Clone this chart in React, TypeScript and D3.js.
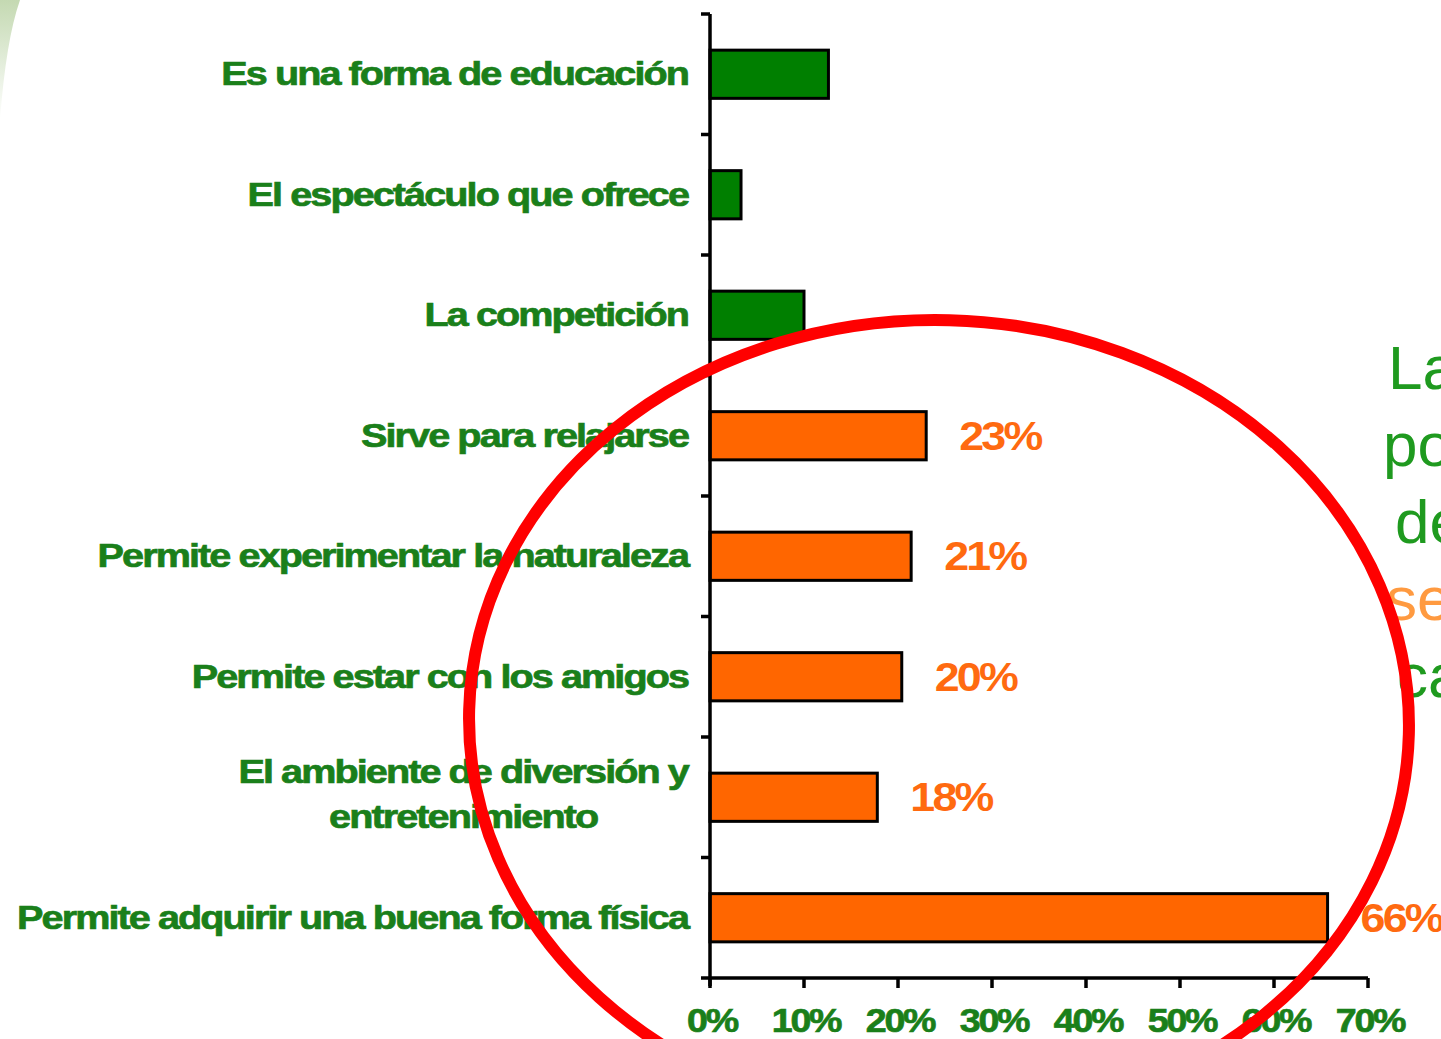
import React, { useEffect, useRef } from "react";
import * as d3 from "d3";

const categories = [
  "Es una forma de educación",
  "El espectáculo que ofrece",
  "La competición",
  "Sirve para relajarse",
  "Permite experimentar la naturaleza",
  "Permite estar con los amigos",
  "El ambiente de diversión y\nentretenimiento",
  "Permite adquirir una buena forma física",
];
const values = [12.6, 3.3, 10, 23, 21.4, 20.4, 17.8, 65.7];
const highlighted = [false, false, false, true, true, true, true, true];
const valueLabels = ["", "", "", "23%", "21%", "20%", "18%", "66%"];
const xTicks = [0, 10, 20, 30, 40, 50, 60, 70];
const sideLines = [
  { text: "La", color: "#1f9a1f" },
  { text: "po", color: "#1f9a1f" },
  { text: "de", color: "#1f9a1f" },
  { text: "se", color: "#ff9a40" },
  { text: "ca", color: "#1f9a1f" },
];
const sideX = [1388, 1383, 1395, 1386, 1397];

const W = 1441;
const H = 1039;
const LABEL_GREEN = "#1a7f1a";
const BAR_GREEN = "#007f00";
const ORANGE = "#ff6600";
const LABEL_ORANGE = "#ff6a10";
const FONT = "'Liberation Sans', Arial, sans-serif";

export default function App() {
  const ref = useRef<SVGSVGElement | null>(null);

  useEffect(() => {
    const svg = d3.select(ref.current);
    svg.selectAll("*").remove();

    const x = d3.scaleLinear().domain([0, 70]).range([710, 1368]);
    const y = d3
      .scaleBand<number>()
      .domain(d3.range(categories.length))
      .range([14, 978])
      .paddingInner(0.6)
      .paddingOuter(0.3);

    svg.append("rect").attr("width", W).attr("height", H).attr("fill", "#ffffff");

    // top-left decorative shape
    const defs = svg.append("defs");
    const grad = defs
      .append("linearGradient")
      .attr("id", "tlg")
      .attr("x1", 0)
      .attr("y1", 0)
      .attr("x2", 0)
      .attr("y2", 1);
    grad.append("stop").attr("offset", 0).attr("stop-color", "#c4d9b2");
    grad.append("stop").attr("offset", 1).attr("stop-color", "#ffffff");
    svg.append("path").attr("d", "M0,0 L20,0 Q6,40 0,120 Z").attr("fill", "url(#tlg)");

    const g = svg.append("g");

    // bars
    g.selectAll("rect.bar")
      .data(values)
      .join("rect")
      .attr("class", "bar")
      .attr("x", x(0))
      .attr("y", (_, i) => y(i)!)
      .attr("width", (d) => x(d) - x(0))
      .attr("height", y.bandwidth())
      .attr("fill", (_, i) => (highlighted[i] ? ORANGE : BAR_GREEN))
      .attr("stroke", "#000")
      .attr("stroke-width", 3);

    // y axis
    g.append("line")
      .attr("x1", x(0))
      .attr("x2", x(0))
      .attr("y1", 14)
      .attr("y2", 986)
      .attr("stroke", "#000")
      .attr("stroke-width", 3.5);
    const bounds = d3.range(categories.length).map((i) => y(i)! - (y.step() * y.paddingInner()) / 2);
    g.selectAll("line.ytick")
      .data(bounds)
      .join("line")
      .attr("class", "ytick")
      .attr("x1", x(0) - 9)
      .attr("x2", x(0))
      .attr("y1", (d) => d)
      .attr("y2", (d) => d)
      .attr("stroke", "#000")
      .attr("stroke-width", 3.5);

    // x axis
    g.append("line")
      .attr("x1", x(0) - 9)
      .attr("x2", x(70))
      .attr("y1", 978)
      .attr("y2", 978)
      .attr("stroke", "#000")
      .attr("stroke-width", 3.5);
    g.selectAll("line.xtick")
      .data(xTicks)
      .join("line")
      .attr("class", "xtick")
      .attr("x1", (d) => x(d))
      .attr("x2", (d) => x(d))
      .attr("y1", 978)
      .attr("y2", 988)
      .attr("stroke", "#000")
      .attr("stroke-width", 3.5);
    g.selectAll("text.xlab")
      .data(xTicks)
      .join("text")
      .attr("class", "xlab")
      .attr("transform", (d) => `translate(${x(d) + 2},1032) scale(1.14,1)`)
      .attr("text-anchor", "middle")
      .attr("font-family", FONT)
      .attr("font-weight", "bold")
      .attr("font-size", 33)
      .attr("letter-spacing", -2)
      .attr("fill", LABEL_GREEN)
      .attr("stroke", LABEL_GREEN)
      .attr("stroke-width", 0.7)
      .text((d) => `${d}%`);

    // category labels (horizontally stretched bold text)
    const labelRight = 688;
    const sx = 1.2;
    categories.forEach((c, i) => {
      const lines = c.split("\n");
      const cy = y(i)! + y.bandwidth() / 2;
      const lh = 45;
      const t = g
        .append("text")
        .attr("font-family", FONT)
        .attr("font-weight", "bold")
        .attr("font-size", 33)
        .attr("letter-spacing", -1.6)
        .attr("fill", LABEL_GREEN)
        .attr("stroke", LABEL_GREEN)
        .attr("stroke-width", 0.7);
      if (lines.length === 1) {
        t.attr("transform", `translate(${labelRight},${cy + 11}) scale(${sx},1)`)
          .attr("text-anchor", "end")
          .text(lines[0]);
      } else {
        const spans = lines.map((l, k) =>
          t
            .append("tspan")
            .attr("y", 11 - ((lines.length - 1) * lh) / 2 + k * lh - 3)
            .text(l)
        );
        const widths = spans.map((s) => (s.node() as SVGTSpanElement).getComputedTextLength());
        const maxW = Math.max(...widths);
        t.attr("text-anchor", "middle").attr(
          "transform",
          `translate(${labelRight - (maxW * sx) / 2},${cy}) scale(${sx},1)`
        );
        spans.forEach((s) => s.attr("x", 0));
      }
    });

    // value labels
    g.selectAll("text.vlab")
      .data(values.map((v, i) => ({ v, i })).filter((d) => valueLabels[d.i] !== ""))
      .join("text")
      .attr("class", "vlab")
      .attr(
        "transform",
        (d) => `translate(${x(d.v) + 33},${y(d.i)! + y.bandwidth() / 2 + 14}) scale(1.12,1)`
      )
      .attr("font-family", FONT)
      .attr("font-weight", "bold")
      .attr("font-size", 40)
      .attr("letter-spacing", -2.5)
      .attr("fill", LABEL_ORANGE)
      .text((d) => valueLabels[d.i]);

    // side text (cut off at right edge)
    svg
      .selectAll("text.side")
      .data(sideLines)
      .join("text")
      .attr("class", "side")
      .attr("x", (_, i) => sideX[i])
      .attr("y", (_, i) => 389 + i * 77)
      .attr("font-family", FONT)
      .attr("font-size", 62)
      .attr("fill", (d) => d.color)
      .text((d) => d.text);

    // red circle
    svg
      .append("ellipse")
      .attr("transform", "translate(939,722) rotate(1.5)")
      .attr("rx", 470)
      .attr("ry", 402)
      .attr("fill", "none")
      .attr("stroke", "#ff0000")
      .attr("stroke-width", 12);
  }, []);

  return (
    <svg
      ref={ref}
      width={W}
      height={H}
      style={{ position: "absolute", left: 0, top: 0, display: "block" }}
    />
  );
}
